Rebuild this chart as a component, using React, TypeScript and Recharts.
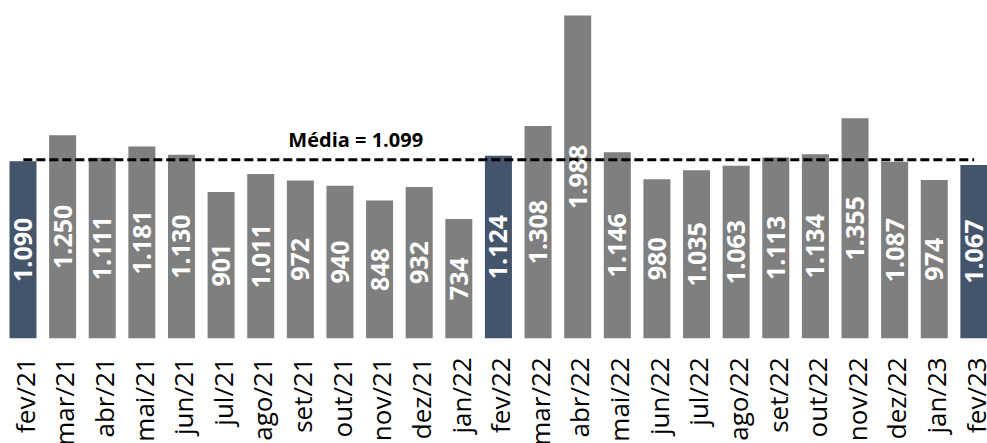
import React from 'react'
import { BarChart, Bar, XAxis, YAxis, Cell, LabelList, ReferenceLine } from 'recharts'

const MESES = [
  'fev/21', 'mar/21', 'abr/21', 'mai/21', 'jun/21', 'jul/21', 'ago/21', 'set/21', 'out/21',
  'nov/21', 'dez/21', 'jan/22', 'fev/22', 'mar/22', 'abr/22', 'mai/22', 'jun/22', 'jul/22',
  'ago/22', 'set/22', 'out/22', 'nov/22', 'dez/22', 'jan/23', 'fev/23',
]
const VALORES = [
  1090, 1250, 1111, 1181, 1130, 901, 1011, 972, 940, 848, 932, 734,
  1124, 1308, 1988, 1146, 980, 1035, 1063, 1113, 1134, 1355, 1087, 974, 1067,
]
const DESTAQUES = ['fev/21', 'fev/22', 'fev/23']
const MEDIA = 1099

const FONT = '"Open Sans", "Noto Sans", sans-serif'

// thousands with a dot, pt-BR style
const fmt = (v: number) => String(v).replace(/\B(?=(\d{3})+(?!\d))/g, '.')

const data = MESES.map((mes, i) => ({ mes, valor: VALORES[i] }))

const BarLabel = (props: any) => {
  const { x, y, width, height, value } = props
  const cx = x + width / 2
  const cy = y + height / 2
  return (
    <text
      x={cx}
      y={cy}
      dy="0.36em"
      transform={`rotate(-90, ${cx}, ${cy})`}
      textAnchor="middle"
      fill="#fff"
      fontFamily={FONT}
      fontWeight={700}
      fontSize={25}
    >
      {fmt(value)}
    </text>
  )
}

const MediaLabel = (props: any) => {
  const vb = props.viewBox || {}
  return (
    <text
      x={(vb.x || 0) + 265}
      y={(vb.y || 0) - 13}
      fill="#000"
      fontFamily={FONT}
      fontWeight={700}
      fontSize={20}
    >
      {`Média = ${fmt(MEDIA)}`}
    </text>
  )
}

export default function App() {
  return (
    <div style={{ position: 'absolute', left: 0, top: 0, width: 987, height: 443, overflow: 'hidden', background: '#fff' }}>
      <BarChart
        width={994}
        height={443}
        data={data}
        margin={{ top: 13.5, right: 0, left: 3.5, bottom: 0 }}
      >
        <XAxis
          dataKey="mes"
          interval={0}
          axisLine={false}
          tickLine={false}
          height={104.7}
          angle={-90}
          textAnchor="end"
          tickMargin={13}
          tick={{ fill: '#000', fontFamily: FONT, fontSize: 26, verticalAnchor: 'middle', dx: -7 } as any}
        />
        <YAxis hide domain={[0, 2000]} />
        <Bar dataKey="valor" barSize={27} isAnimationActive={false}>
          {data.map((d) => (
            <Cell key={d.mes} fill={DESTAQUES.includes(d.mes) ? '#44546A' : '#7F7F7F'} />
          ))}
          <LabelList dataKey="valor" content={<BarLabel />} />
        </Bar>
        <ReferenceLine
          segment={[{ x: MESES[0], y: MEDIA }, { x: MESES[MESES.length - 1], y: MEDIA }]}
          stroke="#000"
          strokeWidth={3}
          strokeDasharray="9 4"
          label={<MediaLabel />}
        />
      </BarChart>
    </div>
  )
}
